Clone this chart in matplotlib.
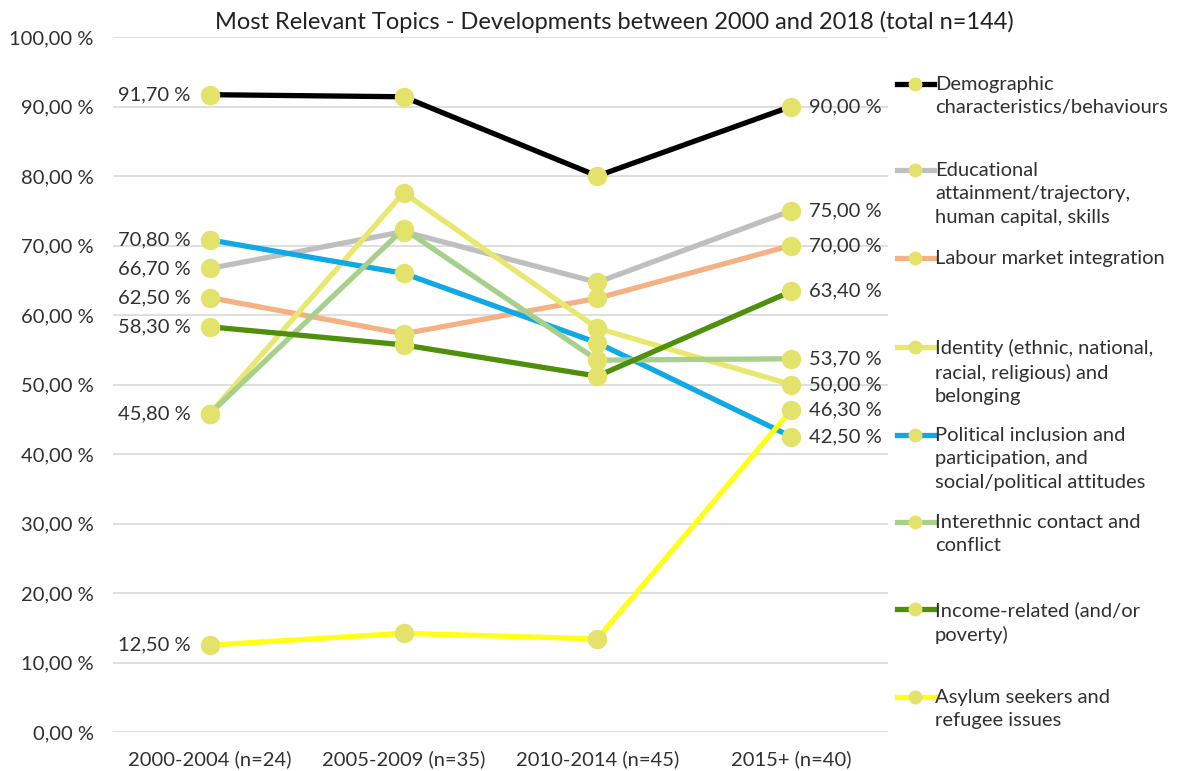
import matplotlib
matplotlib.use("Agg")
import matplotlib.pyplot as plt
from matplotlib.lines import Line2D

plt.rcParams['font.family'] = ['Lato', 'DejaVu Sans']

categories = ["2000-2004 (n=24)", "2005-2009 (n=35)", "2010-2014 (n=45)", "2015+ (n=40)"]
series_names = [
    "Demographic\ncharacteristics/behaviours",
    "Educational\nattainment/trajectory,\nhuman capital, skills",
    "Labour market integration",
    "Identity (ethnic, national,\nracial, religious) and\nbelonging",
    "Political inclusion and\nparticipation, and\nsocial/political attitudes",
    "Interethnic contact and\nconflict",
    "Income-related (and/or\npoverty)",
    "Asylum seekers and\nrefugee issues",
]
demographic = [91.7, 91.4, 80.0, 90.0]
educational = [66.7, 72.0, 64.7, 75.0]
labour = [62.5, 57.3, 62.4, 70.0]
identity = [45.8, 77.6, 58.1, 50.0]
political = [70.8, 66.0, 56.0, 42.5]
interethnic = [45.8, 72.4, 53.5, 53.7]
income = [58.3, 55.7, 51.2, 63.4]
asylum = [12.5, 14.2, 13.4, 46.3]
values = [demographic, educational, labour, identity, political, interethnic, income, asylum]
colors = ["#000000", "#bfbfbf", "#f4b183", "#e8e86e", "#0fa9e6", "#a6d08c", "#4f8f0a", "#ffff1a"]
marker_color = "#e3e36c"
yticks = [0, 10, 20, 30, 40, 50, 60, 70, 80, 90, 100]
left_labels = ["91,70 %", "70,80 %", "66,70 %", "62,50 %", "58,30 %", "45,80 %", "12,50 %"]
left_vals = [91.7, 70.8, 66.7, 62.5, 58.3, 45.8, 12.5]
right_labels = ["90,00 %", "75,00 %", "70,00 %", "63,40 %", "53,70 %", "50,00 %", "46,30 %", "42,50 %"]
right_vals = [90.0, 75.0, 70.0, 63.4, 53.7, 50.0, 46.3, 42.5]

FS = 14.5
TXT = '#303030'
W, H = 1181, 771
fig = plt.figure(figsize=(W / 100, H / 100), dpi=100)
ax = fig.add_axes([113 / W, 1 - 732 / H, 775 / W, 695 / H])
x = list(range(len(categories)))
for vals, c in zip(values, colors):
    ax.plot(x, vals, color=c, lw=3.8, marker='o', ms=13, mfc=marker_color, mec=marker_color,
            solid_joinstyle='round', zorder=3)

ax.set_xlim(-0.5, 3.5)
ax.set_ylim(0, 100)
ax.set_yticks(yticks)
ax.set_yticklabels([f"{v:.2f}".replace('.', ',') + " %" for v in yticks], fontsize=FS, color=TXT)
ax.set_xticks(x)
ax.set_xticklabels(categories, fontsize=FS, color=TXT)
ax.tick_params(axis='y', length=0, pad=14)
ax.tick_params(axis='x', length=0, pad=13)
ax.grid(axis='y', color='#d9d9d9', lw=1.2)
ax.set_axisbelow(True)
for s in ax.spines.values():
    s.set_visible(False)

for lab, v in zip(left_labels, left_vals):
    ax.annotate(lab, (0, v), xytext=(-14, 0), textcoords='offset points', ha='right', va='center',
                fontsize=FS, color=TXT)
for lab, v in zip(right_labels, right_vals):
    ax.annotate(lab, (3, v), xytext=(13, 0), textcoords='offset points', ha='left', va='center',
                fontsize=FS, color=TXT)

fig.text(614 / W, 1 - 22 / H, "Most Relevant Topics - Developments between 2000 and 2018 (total n=144)",
         ha='center', va='center', fontsize=17, color='#222222')

# Legend drawn manually
leg_y = [84, 170, 258, 347, 435, 522, 609, 697]
for name, c, yy in zip(series_names, colors, leg_y):
    yf = 1 - yy / H
    fig.add_artist(Line2D([897 / W, 934 / W], [yf, yf], color=c, lw=3.8, transform=fig.transFigure))
    fig.add_artist(Line2D([915 / W], [yf], marker='o', ms=9, mfc=marker_color, mec=marker_color,
                          transform=fig.transFigure))
    fig.text(935 / W, yf + 8 / H, name, ha='left', va='top', fontsize=FS, color=TXT,
             linespacing=1.45)

fig.savefig("out.png", dpi=100, facecolor='white')
